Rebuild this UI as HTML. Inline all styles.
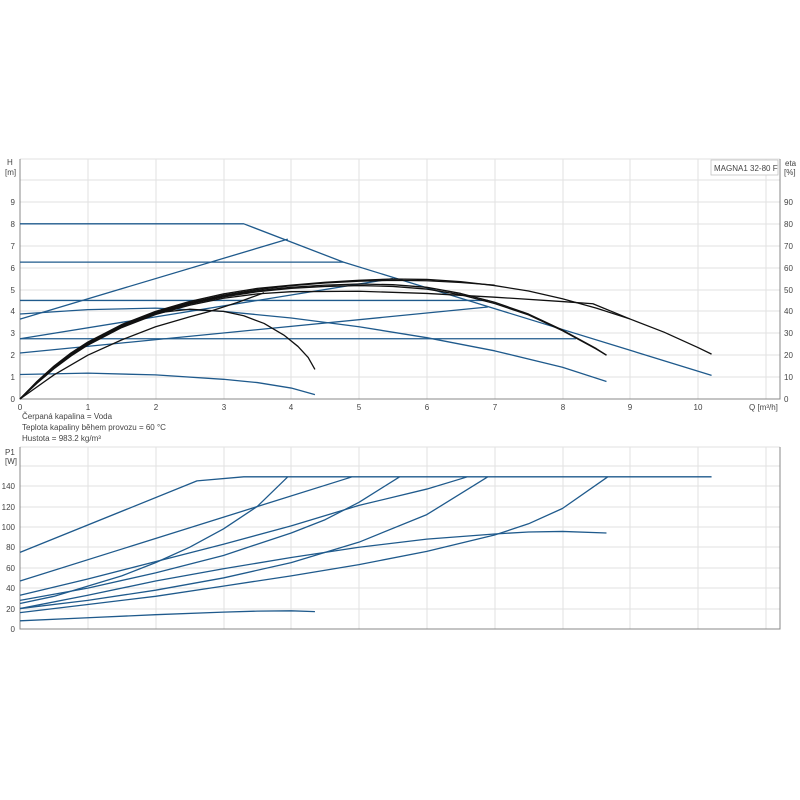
<!DOCTYPE html>
<html><head><meta charset="utf-8"><style>
body{margin:0;background:#fff}
svg{display:block}
text{font-family:"Liberation Sans",sans-serif;font-size:8px;fill:#444}
.g{stroke:#e2e2e2;stroke-width:1;fill:none}
.b{stroke:#1f5a8c;stroke-width:1.3;fill:none;vector-effect:non-scaling-stroke;stroke-linejoin:round}
.k{stroke:#111;stroke-width:1.3;fill:none;vector-effect:non-scaling-stroke;stroke-linejoin:round}
</style></head><body>
<svg width="800" height="800" viewBox="0 0 800 800">
<g class="g">
<path d="M88 159V399M156 159V399M224 159V399M291 159V399M359 159V399M427 159V399M495 159V399M563 159V399M630 159V399M698 159V399M766 159V399"/>
<path d="M20 377H780M20 355H780M20 333H780M20 311H780M20 290H780M20 268H780M20 246H780M20 224H780M20 202H780M20 180H780M20 159H780"/>
</g>
<path d="M20 159V399H780V159" stroke="#888" fill="none"/>
<text x="7" y="165">H</text><text x="5" y="175">[m]</text>
<g text-anchor="end"><text x="15" y="402">0</text><text x="15" y="380">1</text><text x="15" y="358">2</text><text x="15" y="336">3</text><text x="15" y="314">4</text><text x="15" y="293">5</text><text x="15" y="271">6</text><text x="15" y="249">7</text><text x="15" y="227">8</text><text x="15" y="205">9</text></g>
<g><text x="784" y="402">0</text><text x="784" y="380">10</text><text x="784" y="358">20</text><text x="784" y="336">30</text><text x="784" y="314">40</text><text x="784" y="293">50</text><text x="784" y="271">60</text><text x="784" y="249">70</text><text x="784" y="227">80</text><text x="784" y="205">90</text></g>
<text x="785" y="166">eta</text><text x="784" y="175">[%]</text>
<g text-anchor="middle"><text x="20" y="410">0</text><text x="88" y="410">1</text><text x="156" y="410">2</text><text x="224" y="410">3</text><text x="291" y="410">4</text><text x="359" y="410">5</text><text x="427" y="410">6</text><text x="495" y="410">7</text><text x="563" y="410">8</text><text x="630" y="410">9</text><text x="698" y="410">10</text></g>
<text x="749" y="410">Q [m³/h]</text>
<rect x="711" y="160" width="67" height="15" fill="#fff" stroke="#bbb" stroke-width="0.7"/>
<text x="714" y="171">MAGNA1 32-80 F</text>
<g transform="matrix(67.8 0 0 -21.9 20 399)">
<path class="b" d="M0 8H3.3L4.77 6.25L10.2 1.08"/>
<path class="b" d="M0 6.25H4.77"/>
<path class="b" d="M0 3.65L3.95 7.3"/>
<path class="b" d="M0 4.5H6.9"/>
<path class="b" d="M0 2.75L5.5 5.5"/>
<path class="b" d="M0 2.1L6.9 4.2"/>
<path class="b" d="M0 2.75H8.2"/>
<path class="b" d="M0 3.88L1 4.08L2 4.15L3 4.0L4 3.7L5 3.3L6 2.8L7 2.2L8 1.45L8.65 0.8"/>
<path class="b" d="M0 1.12L1 1.18L2 1.1L3 0.9L3.5 0.75L4 0.5L4.35 0.2"/>
<path class="k" d="M0 0L0.25 0.8L0.5 1.5L0.75 2.1L1 2.6L1.5 3.4L2 4.0L2.5 4.45L3 4.8L3.5 5.05L4 5.2L4.5 5.33L5 5.42L5.5 5.48L6 5.46L6.5 5.36L7 5.18L7.5 4.93L8 4.58L8.5 4.15L9 3.65L9.5 3.05L10 2.35L10.2 2.05"/>
<path class="k" d="M0 0L0.25 0.78L0.5 1.47L0.75 2.06L1 2.56L1.5 3.36L2 3.96L2.5 4.4L3 4.74L3.5 5.0L4 5.17L4.5 5.3L5 5.38L5.5 5.42L6 5.4L6.5 5.32L7 5.2"/>
<path class="k" d="M0 0L0.25 0.76L0.5 1.44L0.75 2.03L1 2.53L1.5 3.33L2 3.93L2.5 4.37L3 4.7L3.5 4.95L4 5.1L4.5 5.2L5 5.25L5.5 5.22L6 5.1L6.5 4.82L7 4.42L7.5 3.88L8 3.15L8.5 2.3L8.65 2.0"/>
<path class="k" d="M0 0L0.25 0.74L0.5 1.41L0.75 2.0L1 2.5L1.5 3.3L2 3.9L2.5 4.33L3 4.66L3.5 4.9L4 5.05L4.5 5.14L5 5.18L5.5 5.14L6 5.02L6.5 4.76L7 4.36L7.5 3.84L8 3.12L8.5 2.28L8.65 2.0"/>
<path class="k" d="M0 0L0.25 0.72L0.5 1.38L0.75 1.96L1 2.46L1.5 3.26L2 3.86L2.5 4.28L3 4.6L3.5 4.8L4 4.9L5 4.92L6 4.82L7 4.65L8 4.45L8.45 4.35L9 3.65"/>
<path class="k" d="M0 0L0.5 1.1L1 2.0L1.5 2.7L2 3.3L2.5 3.75L2.8 4.0L3.2 4.4L3.6 4.85"/>
<path class="k" d="M0 0L0.25 0.76L0.5 1.44L0.75 2.03L1 2.53L1.5 3.33L2 3.93L2.5 4.1L3 4.0L3.3 3.8L3.6 3.45L3.9 2.9L4.1 2.4L4.25 1.9L4.35 1.35"/>
</g>
<text x="22" y="419">Čerpaná kapalina = Voda</text>
<text x="22" y="430">Teplota kapaliny během provozu = 60 °C</text>
<text x="22" y="441">Hustota = 983.2 kg/m³</text>
<g class="g">
<path d="M88 447V629M156 447V629M224 447V629M291 447V629M359 447V629M427 447V629M495 447V629M563 447V629M630 447V629M698 447V629M766 447V629"/>
<path d="M20 609H780M20 588H780M20 568H780M20 547H780M20 527H780M20 507H780M20 486H780M20 466H780M20 447H780"/>
</g>
<path d="M20 447V629H780V447" stroke="#888" fill="none"/>
<text x="5" y="455">P1</text><text x="5" y="464">[W]</text>
<g text-anchor="end"><text x="15" y="632">0</text><text x="15" y="612">20</text><text x="15" y="591">40</text><text x="15" y="571">60</text><text x="15" y="550">80</text><text x="15" y="530">100</text><text x="15" y="510">120</text><text x="15" y="489">140</text></g>
<g transform="matrix(67.8 0 0 -1.0214 20 629)">
<path class="b" d="M0 75L2.61 145L3.3 149H10.2"/>
<path class="b" d="M0 47L4.9 149"/>
<path class="b" d="M0 25L0.5 32L1 42L1.5 52L2 65L2.5 80L3 98L3.5 120L3.95 149"/>
<path class="b" d="M0 33L1 49L2 66L3 83L4 101L5 121L6 137L6.6 149"/>
<path class="b" d="M0 28L1 40L2 55L3 72L4 94L4.5 107L5 124L5.6 149"/>
<path class="b" d="M0 20L1 28L2 38L3 50L4 65L5 85L6 112L6.9 149"/>
<path class="b" d="M0 16L1 24L2 32L3 42L4 52L5 63L6 76L7 92L7.5 103L8 118L8.67 149"/>
<path class="b" d="M0 20L1 33L2 47L3 59L4 70L5 80L6 88L7 93L7.5 95L8 95.5L8.65 94"/>
<path class="b" d="M0 8L1 11L2 14L3 16.5L3.5 17.5L4 17.8L4.35 17"/>
</g>
</svg>
</body></html>
